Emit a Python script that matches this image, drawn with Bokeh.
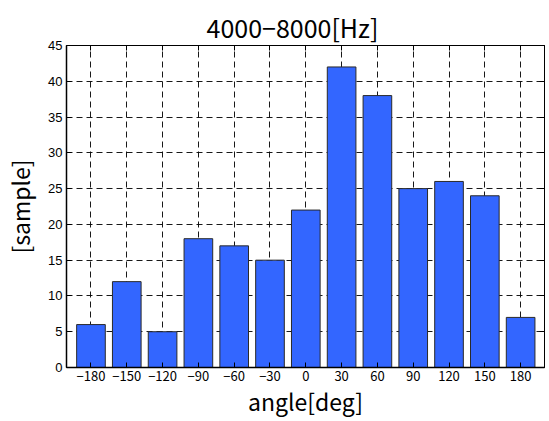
from bokeh.plotting import figure
from bokeh.models import Range1d, LinearAxis, FixedTicker, Title, ColumnDataSource
from bokeh.embed import file_html
from bokeh.resources import INLINE

angles = [-180, -150, -120, -90, -60, -30, 0, 30, 60, 90, 120, 150, 180]
counts = [6, 12, 5, 18, 17, 15, 22, 42, 38, 25, 26, 24, 7]
x_tick_labels = ["−180", "−150", "−120", "−90", "−60", "−30", "0", "30", "60", "90", "120", "150", "180"]
y_ticks = [0, 5, 10, 15, 20, 25, 30, 35, 40, 45]
title_text = "4000−8000[Hz]"
x_label = "angle[deg]"
y_label = "[sample]"

JP = "Noto Sans CJK JP"

p = figure(width=549, height=421, output_backend="svg", toolbar_location=None,
           x_range=Range1d(-200.5, 200), y_range=Range1d(0, 45),
           min_border_left=66, min_border_right=5, min_border_top=45, min_border_bottom=54)
p.background_fill_color = "white"
p.border_fill_color = "white"
p.outline_line_color = "black"
p.outline_line_width = 1

src = ColumnDataSource(dict(x=angles, top=counts))
p.vbar(x="x", top="top", width=24, source=src, fill_color="#3366FF",
       line_color="#2a2a2a", line_width=1)

# axes styling
xa = p.xaxis[0]
xa.ticker = FixedTicker(ticks=angles)
xa.major_label_overrides = {a: l for a, l in zip(angles, x_tick_labels)}
xa.major_label_text_font = JP
xa.major_label_text_font_size = "13px"
xa.major_label_standoff = 3
xa.axis_label = x_label
xa.axis_label_text_font = JP
xa.axis_label_text_font_size = "23px"
xa.axis_label_text_font_style = "normal"
xa.axis_label_standoff = 0

ya = p.yaxis[0]
ya.ticker = FixedTicker(ticks=y_ticks)
ya.major_label_text_font = "Liberation Sans"
ya.major_label_text_font_size = "13px"
ya.major_label_standoff = 4
ya.axis_label = y_label
ya.axis_label_text_font = JP
ya.axis_label_text_font_size = "23px"
ya.axis_label_text_font_style = "normal"
ya.axis_label_standoff = 8

for ax in (xa, ya):
    ax.major_tick_in = 5
    ax.major_tick_out = 0
    ax.minor_tick_in = 0
    ax.minor_tick_out = 0
    ax.axis_line_color = "black"
    ax.axis_line_width = 1.5
    ax.major_tick_line_color = "black"
    ax.major_label_text_color = "black"
    ax.axis_label_text_color = "black"

top_ax = LinearAxis(ticker=FixedTicker(ticks=angles), major_label_text_font_size="0px",
                    major_label_standoff=0, major_tick_in=5, major_tick_out=0,
                    minor_tick_in=0, minor_tick_out=0, axis_line_color="black")
top_ax.major_label_overrides = {a: "" for a in angles}
right_ax = LinearAxis(ticker=FixedTicker(ticks=y_ticks), major_label_text_font_size="0px",
                      major_label_standoff=0, major_tick_in=5, major_tick_out=0,
                      minor_tick_in=0, minor_tick_out=0, axis_line_color="black")
right_ax.major_label_overrides = {t: "" for t in y_ticks}
p.add_layout(top_ax, "above")
p.add_layout(right_ax, "right")

# grid
p.xgrid.ticker = FixedTicker(ticks=angles)
p.ygrid.ticker = FixedTicker(ticks=y_ticks[1:-1])
for g in (p.xgrid[0], p.ygrid[0]):
    g.grid_line_color = "black"
    g.grid_line_dash = "6 4"
    g.grid_line_width = 1
    g.grid_line_alpha = 0.9

p.title = Title(text=title_text, align="left", offset=140, text_font=JP, text_font_size="25px",
                text_font_style="normal", text_color="black", standoff=2)

open("out.html", "w").write(file_html(p, INLINE))
